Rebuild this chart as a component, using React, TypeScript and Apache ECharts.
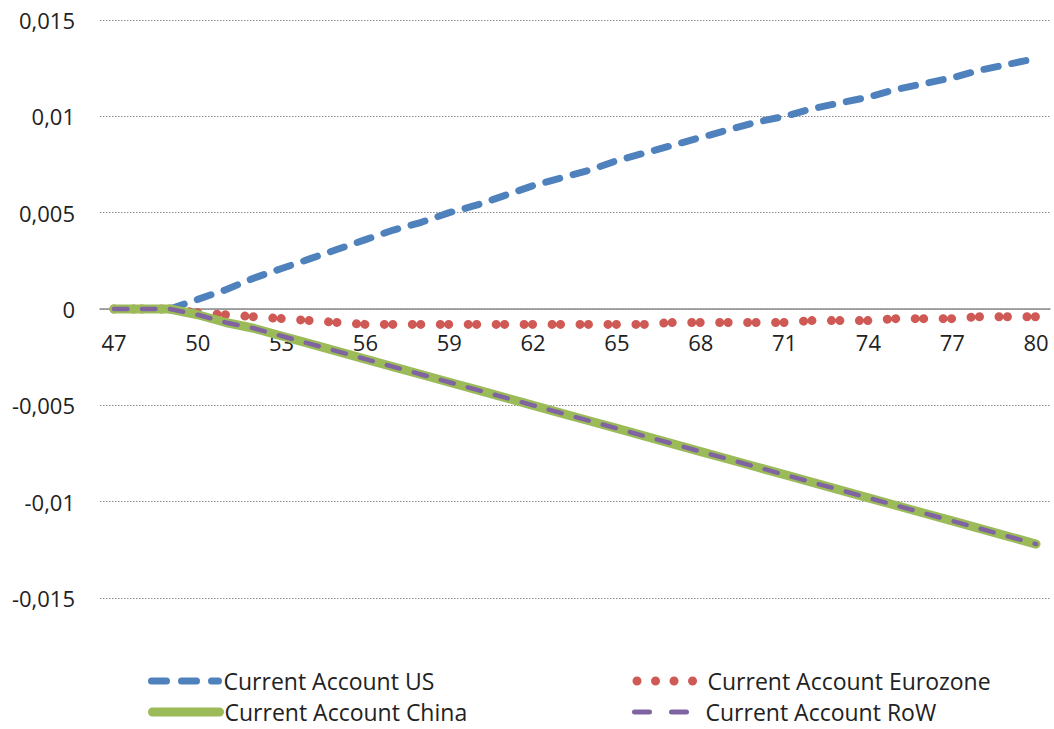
import React, { useEffect, useRef } from "react";
import * as echarts from "echarts";

const categories = ["47","48","49","50","51","52","53","54","55","56","57","58","59","60","61","62","63","64","65","66","67","68","69","70","71","72","73","74","75","76","77","78","79","80"];

const usValues = [0,0,0,0.0005,0.0010,0.0016,0.0021,0.0026,0.0031,0.0036,0.0041,0.0045,0.0050,0.0054,0.0059,0.0064,0.0068,0.0072,0.0077,0.0081,0.0085,0.0089,0.0093,0.0097,0.0100,0.0104,0.0107,0.0110,0.0114,0.0117,0.0120,0.0124,0.0127,0.0130];

const eurozoneValues = [0,0,0,-0.0002,-0.0003,-0.0004,-0.0005,-0.0006,-0.0007,-0.0008,-0.0008,-0.0008,-0.0008,-0.0008,-0.0008,-0.0008,-0.0008,-0.0008,-0.0008,-0.0008,-0.0007,-0.0007,-0.0007,-0.0007,-0.0007,-0.0006,-0.0006,-0.0006,-0.0005,-0.0005,-0.0005,-0.0004,-0.0004,-0.0004];

const chinaValues = [0,0,0,-0.0003,-0.0007,-0.0010,-0.0014,-0.0018,-0.0022,-0.0026,-0.0030,-0.0034,-0.0038,-0.0042,-0.0046,-0.0050,-0.0054,-0.0058,-0.0062,-0.0066,-0.0070,-0.0074,-0.0078,-0.0082,-0.0086,-0.0090,-0.0094,-0.0098,-0.0102,-0.0106,-0.0110,-0.0114,-0.0118,-0.0122];

const rowValues = [0,0,0,-0.0003,-0.0007,-0.0010,-0.0014,-0.0018,-0.0022,-0.0026,-0.0030,-0.0034,-0.0038,-0.0042,-0.0046,-0.0050,-0.0054,-0.0058,-0.0062,-0.0066,-0.0070,-0.0074,-0.0078,-0.0082,-0.0086,-0.0090,-0.0094,-0.0098,-0.0102,-0.0106,-0.0110,-0.0114,-0.0118,-0.0122];

const seriesNames = ["Current Account US", "Current Account Eurozone", "Current Account China", "Current Account RoW"];

const BLUE = "#4F81BD";
const RED = "#CF5A55";
const GREEN = "#9BBB59";
const PURPLE = "#8064A2";
const FONT = "Open Sans";
const TEXT = "#222222";

export default function App() {
  const ref = useRef<HTMLDivElement>(null);
  useEffect(() => {
    if (!ref.current) return;
    const chart = echarts.init(ref.current, null, { renderer: "svg" });
    const hidden = { opacity: 0 };
    const legendText = { fontSize: 23, color: TEXT, fontFamily: FONT, lineHeight: 24 };
    const mkLegend = (left: number, top: number, itemWidth: number, item: any) => ({
      orient: "horizontal",
      left,
      top,
      padding: 0,
      itemWidth,
      itemHeight: 14,
      textStyle: legendText,
      data: [item],
    });
    chart.setOption({
      animation: false,
      backgroundColor: "#ffffff",
      textStyle: { fontFamily: FONT },
      grid: { left: 100, right: 4, top: 20, bottom: 131, containLabel: false },
      xAxis: {
        type: "category",
        data: categories,
        boundaryGap: true,
        position: "bottom",
        offset: -289,
        axisLine: { onZero: false, lineStyle: { color: "#8c8c8c", width: 1.5 } },
        axisTick: { show: false },
        axisLabel: { interval: 2, margin: 22, fontSize: 22, color: TEXT, fontFamily: FONT },
        splitLine: { show: false },
      },
      yAxis: {
        type: "value",
        min: -0.015,
        max: 0.015,
        interval: 0.005,
        axisLine: { show: false },
        axisTick: { show: false },
        axisLabel: {
          margin: 25,
          fontSize: 22,
          color: TEXT,
          fontFamily: FONT,
          formatter: (v: number) => String(+v.toFixed(3)).replace(".", ","),
        },
        splitLine: { show: true, lineStyle: { color: "#8c8c8c", type: [1.5, 1.5], width: 1 } },
      },
      legend: [
        mkLegend(148, 669, 67, { name: seriesNames[0], itemStyle: hidden, lineStyle: { color: BLUE, width: 7, type: [15, 15], cap: "round", dashOffset: 0 } }),
        mkLegend(148, 700, 67, { name: seriesNames[2], itemStyle: hidden, lineStyle: { color: GREEN, width: 9, type: "solid", cap: "round" } }),
        mkLegend(630, 669, 68, { name: seriesNames[1], itemStyle: hidden, lineStyle: { color: RED, width: 9, type: [0.01, 18.5], cap: "round", dashOffset: 15.5 } }),
        mkLegend(630, 700, 68, { name: seriesNames[3], itemStyle: hidden, lineStyle: { color: PURPLE, width: 5, type: [15, 22], cap: "round", dashOffset: -2.5 } }),
      ],
      series: [
        {
          name: seriesNames[0],
          type: "line",
          data: usValues,
          symbol: "none",
          lineStyle: { color: BLUE, width: 7, type: [14.5, 13.8], cap: "round", join: "round" },
          itemStyle: { color: BLUE },
          z: 2,
        },
        {
          name: seriesNames[1],
          type: "line",
          data: eurozoneValues,
          symbol: "none",
          lineStyle: { color: RED, width: 9, type: [0.01, 19.5, 0.01, 8.43], cap: "round", join: "round" },
          itemStyle: { color: RED },
          z: 3,
        },
        {
          name: seriesNames[2],
          type: "line",
          data: chinaValues,
          symbol: "none",
          lineStyle: { color: GREEN, width: 9, type: "solid", cap: "round", join: "round" },
          itemStyle: { color: GREEN },
          z: 4,
        },
        {
          name: seriesNames[3],
          type: "line",
          data: rowValues,
          symbol: "none",
          lineStyle: { color: PURPLE, width: 4.5, type: [13.5, 14.5], cap: "round", join: "round" },
          itemStyle: { color: PURPLE },
          z: 5,
        },
      ],
    });
    return () => chart.dispose();
  }, []);
  return (
    <div
      ref={ref}
      style={{ position: "absolute", left: 0, top: 0, width: 1054, height: 729 }}
    />
  );
}
